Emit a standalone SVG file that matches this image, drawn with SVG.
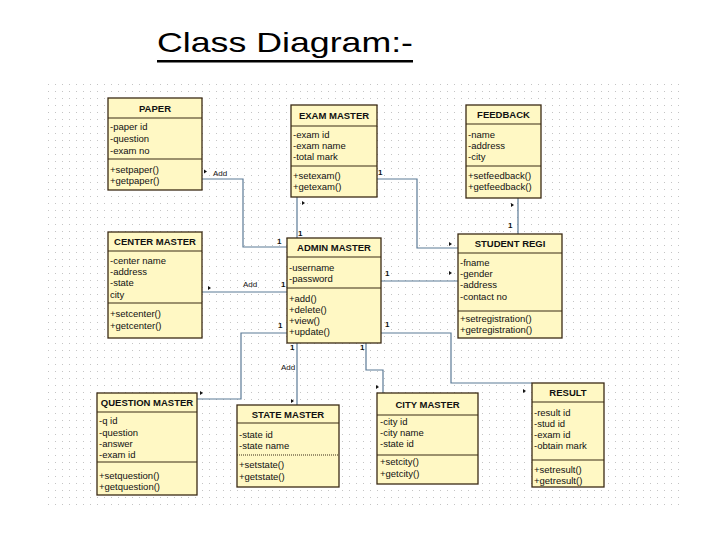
<svg xmlns="http://www.w3.org/2000/svg" width="720" height="540" viewBox="0 0 720 540">
<defs>
<pattern id="dots" x="48" y="84" width="7" height="7" patternUnits="userSpaceOnUse">
<rect x="0" y="0" width="1" height="1" fill="#c4c4c4"/>
</pattern>
<style>
.box{fill:#fff8c4;stroke:#3b2a14;stroke-width:1.3}
.sep{stroke:#3b2a14;stroke-width:1.1}
.hd{font-family:"Liberation Sans",Arial,sans-serif;font-size:9.5px;font-weight:bold;fill:#111;text-anchor:middle}
.at{font-family:"Liberation Sans",Arial,sans-serif;font-size:9.5px;fill:#111}
.conn{fill:none;stroke:#5b7a96;stroke-width:1.2}
.lbl{font-family:"Liberation Sans",Arial,sans-serif;font-size:8px;fill:#111}
.one{font-family:"Liberation Sans",Arial,sans-serif;font-size:8px;font-weight:bold;fill:#111}
.mk{fill:#111}
.title{font-family:"Liberation Sans",Arial,sans-serif;font-size:28px;fill:#000}
</style>
</defs>
<rect width="720" height="540" fill="#ffffff"/>
<text class="title" x="157" y="52" textLength="256" lengthAdjust="spacingAndGlyphs">Class Diagram:-</text>
<rect x="157" y="60" width="256" height="2.5" fill="#000"/>
<rect x="48" y="84" width="632" height="426" fill="url(#dots)"/>

<g id="connectors">
<path class="conn" d="M202,179 H243 V247 H287"/>
<path class="conn" d="M297,197 V238"/>
<path class="conn" d="M377,179 H417 V248 H458"/>
<path class="conn" d="M518,198 V234"/>
<path class="conn" d="M202,292 H287"/>
<path class="conn" d="M381,281 H458"/>
<path class="conn" d="M287,333 H241 V399 H197"/>
<path class="conn" d="M297,343 V405"/>
<path class="conn" d="M366,343 V370 H383 V393"/>
<path class="conn" d="M381,333 H451 V383 H532"/>
<polygon class="mk" points="204,169.5 207,171.5 204,173.5"/>
<polygon class="mk" points="302,201 305,203 302,205"/>
<polygon class="mk" points="449,242 452,244 449,246"/>
<polygon class="mk" points="511,203 514,205 511,207"/>
<polygon class="mk" points="208,286 211,288 208,290"/>
<polygon class="mk" points="449,271 452,273 449,275"/>
<polygon class="mk" points="200,391 203,393 200,395"/>
<polygon class="mk" points="291,399 294,401 291,403"/>
<polygon class="mk" points="376,385 379,387 376,389"/>
<polygon class="mk" points="523,389 526,391 523,393"/>
<text class="lbl" x="213" y="176">Add</text>
<text class="lbl" x="243" y="287">Add</text>
<text class="lbl" x="281" y="370">Add</text>
<text class="one" x="378" y="175">1</text>
<text class="one" x="298" y="236">1</text>
<text class="one" x="277" y="244">1</text>
<text class="one" x="508" y="228">1</text>
<text class="one" x="281" y="287">1</text>
<text class="one" x="385" y="276">1</text>
<text class="one" x="278" y="328">1</text>
<text class="one" x="385" y="327">1</text>
<text class="one" x="290" y="350">1</text>
<text class="one" x="360" y="350">1</text>
</g>

<g id="paper">
<rect class="box" x="108" y="98" width="94" height="92"/>
<line class="sep" x1="108" y1="118" x2="202" y2="118"/>
<line class="sep" x1="108" y1="159" x2="202" y2="159"/>
<text class="hd" x="155" y="111.5">PAPER</text>
<text class="at" x="110" y="129.5">-paper id</text>
<text class="at" x="110" y="141.5">-question</text>
<text class="at" x="110" y="153.5">-exam no</text>
<text class="at" x="110" y="172.5">+setpaper()</text>
<text class="at" x="110" y="184">+getpaper()</text>
</g>

<g id="exam-master">
<rect class="box" x="291" y="105" width="86" height="92"/>
<line class="sep" x1="291" y1="126" x2="377" y2="126"/>
<line class="sep" x1="291" y1="166" x2="377" y2="166"/>
<text class="hd" x="334" y="119">EXAM MASTER</text>
<text class="at" x="293" y="137.5">-exam id</text>
<text class="at" x="293" y="148.5">-exam name</text>
<text class="at" x="293" y="159.5">-total mark</text>
<text class="at" x="293" y="178.5">+setexam()</text>
<text class="at" x="293" y="189.5">+getexam()</text>
</g>

<g id="feedback">
<rect class="box" x="466" y="105" width="75" height="93"/>
<line class="sep" x1="466" y1="124" x2="541" y2="124"/>
<line class="sep" x1="466" y1="166" x2="541" y2="166"/>
<text class="hd" x="503.5" y="118">FEEDBACK</text>
<text class="at" x="468" y="137.5">-name</text>
<text class="at" x="468" y="148.5">-address</text>
<text class="at" x="468" y="159.5">-city</text>
<text class="at" x="468" y="178.5">+setfeedback()</text>
<text class="at" x="468" y="189.5">+getfeedback()</text>
</g>

<g id="center-master">
<rect class="box" x="108" y="232" width="94" height="106"/>
<line class="sep" x1="108" y1="251" x2="202" y2="251"/>
<line class="sep" x1="108" y1="303" x2="202" y2="303"/>
<text class="hd" x="155" y="245">CENTER MASTER</text>
<text class="at" x="110" y="263.5">-center name</text>
<text class="at" x="110" y="274.5">-address</text>
<text class="at" x="110" y="285.5">-state</text>
<text class="at" x="110" y="297.5"> city</text>
<text class="at" x="110" y="316.5">+setcenter()</text>
<text class="at" x="110" y="328.5">+getcenter()</text>
</g>

<g id="admin-master">
<rect class="box" x="287" y="238" width="94" height="105"/>
<line class="sep" x1="287" y1="257" x2="381" y2="257"/>
<line class="sep" x1="287" y1="288" x2="381" y2="288"/>
<text class="hd" x="334" y="251">ADMIN MASTER</text>
<text class="at" x="289" y="270.5">-username</text>
<text class="at" x="289" y="281.5">-password</text>
<text class="at" x="289" y="301.5">+add()</text>
<text class="at" x="289" y="312.5">+delete()</text>
<text class="at" x="289" y="323.5">+view()</text>
<text class="at" x="289" y="334.5">+update()</text>
</g>

<g id="student-regi">
<rect class="box" x="458" y="234" width="104" height="104"/>
<line class="sep" x1="458" y1="253" x2="562" y2="253"/>
<line class="sep" x1="458" y1="311" x2="562" y2="311"/>
<text class="hd" x="510" y="247">STUDENT REGI</text>
<text class="at" x="460" y="265.5">-fname</text>
<text class="at" x="460" y="276.5">-gender</text>
<text class="at" x="460" y="288">-address</text>
<text class="at" x="460" y="299.5">-contact no</text>
<text class="at" x="460" y="321.5">+setregistration()</text>
<text class="at" x="460" y="332.5">+getregistration()</text>
</g>

<g id="question-master">
<rect class="box" x="97" y="393" width="100" height="102"/>
<line class="sep" x1="97" y1="412" x2="197" y2="412"/>
<line class="sep" x1="97" y1="462" x2="197" y2="462"/>
<text class="hd" x="147" y="406">QUESTION MASTER</text>
<text class="at" x="99" y="423.5">-q id</text>
<text class="at" x="99" y="435.5">-question</text>
<text class="at" x="99" y="446.5">-answer</text>
<text class="at" x="99" y="458">-exam id</text>
<text class="at" x="99" y="478.5">+setquestion()</text>
<text class="at" x="99" y="490">+getquestion()</text>
</g>

<g id="state-master">
<rect class="box" x="237" y="405" width="102" height="82"/>
<line class="sep" x1="237" y1="423" x2="339" y2="423"/>
<line class="sep" x1="237" y1="455" x2="339" y2="455" stroke-dasharray="1 1"/>
<text class="hd" x="288" y="417.5">STATE MASTER</text>
<text class="at" x="239" y="437.5">-state id</text>
<text class="at" x="239" y="448.5">-state name</text>
<text class="at" x="239" y="467.5">+setstate()</text>
<text class="at" x="239" y="479.5">+getstate()</text>
</g>

<g id="city-master">
<rect class="box" x="377" y="393" width="101" height="91"/>
<line class="sep" x1="377" y1="415" x2="478" y2="415"/>
<line class="sep" x1="377" y1="455" x2="478" y2="455"/>
<text class="hd" x="427.5" y="407.5">CITY MASTER</text>
<text class="at" x="380" y="424.5">-city id</text>
<text class="at" x="380" y="435.5">-city name</text>
<text class="at" x="380" y="446.5">-state id</text>
<text class="at" x="380" y="464.5">+setcity()</text>
<text class="at" x="380" y="476.5">+getcity()</text>
</g>

<g id="result">
<rect class="box" x="532" y="383" width="72" height="104"/>
<line class="sep" x1="532" y1="402" x2="604" y2="402"/>
<line class="sep" x1="532" y1="460" x2="604" y2="460"/>
<text class="hd" x="568" y="396">RESULT</text>
<text class="at" x="534" y="415.5">-result id</text>
<text class="at" x="534" y="426.5">-stud id</text>
<text class="at" x="534" y="437.5">-exam id</text>
<text class="at" x="534" y="448.5">-obtain mark</text>
<text class="at" x="534" y="472.5">+setresult()</text>
<text class="at" x="534" y="483.5">+getresult()</text>
</g>
</svg>
